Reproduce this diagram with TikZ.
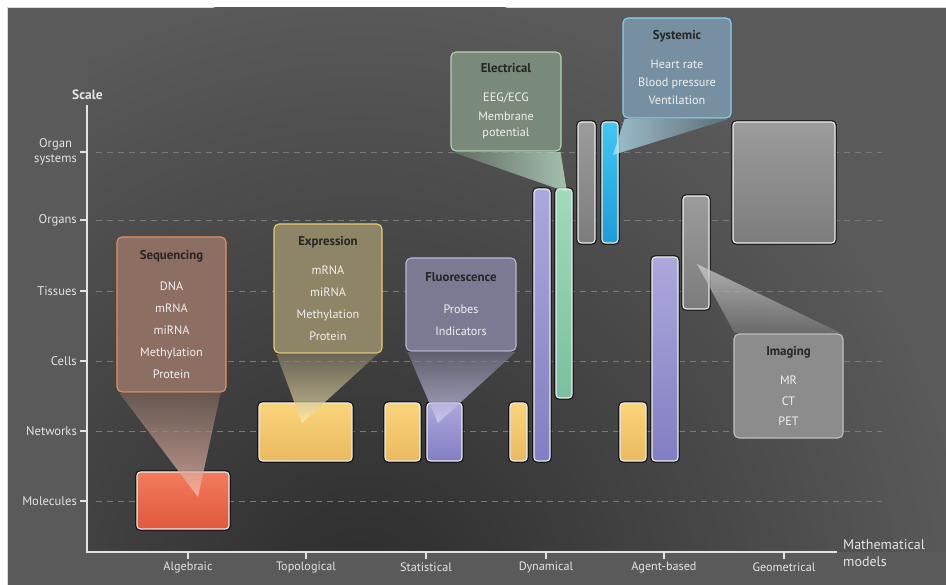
\documentclass[tikz,border=0pt]{standalone}
\usepackage{fontspec}
\setmainfont{PT Sans}
\usetikzlibrary{positioning}
\definecolor{panel}{HTML}{5A5A5A}
\definecolor{paneldark}{HTML}{2C2C2C}
\definecolor{axistext}{HTML}{E4E4E4}
\definecolor{axisline}{HTML}{E2E2E2}
\definecolor{axisgrid}{HTML}{7A7A7A}
\definecolor{calltext}{HTML}{F0F0F0}
\definecolor{titletext}{HTML}{262626}
\newcommand\calltitle[1]{{\fontsize{12.8}{22}\selectfont\bfseries\color{titletext}#1}}
\begin{document}
\begin{tikzpicture}[x=1pt,y=-1pt]
	\tikzstyle{bar}=[rounded corners=3.5pt, inner sep=0pt, draw=white!85!gray, line width=1.1pt, preaction={draw=black, line width=3.8pt, opacity=.6}]
	\tikzstyle{redbar}=[top color={rgb,255:red,242;green,124;blue,92}, bottom color={rgb,255:red,224;green,88;blue,62}]
	\tikzstyle{yellowbar}=[top color={rgb,255:red,250;green,212;blue,124}, bottom color={rgb,255:red,234;green,186;blue,96}]
	\tikzstyle{purplebar}=[top color={rgb,255:red,172;green,168;blue,220}, bottom color={rgb,255:red,130;green,126;blue,194}]
	\tikzstyle{greenbar}=[top color={rgb,255:red,160;green,218;blue,186}, bottom color={rgb,255:red,122;green,192;blue,160}]
	\tikzstyle{graybar}=[top color={rgb,255:red,156;green,156;blue,156}, bottom color={rgb,255:red,124;green,124;blue,124}]
	\tikzstyle{bluebar}=[top color={rgb,255:red,66;green,198;blue,242}, bottom color={rgb,255:red,30;green,156;blue,214}]
	\tikzstyle{callout}=[rounded corners=5pt, inner sep=0pt, line width=1.1pt, align=center, text=calltext, font=\fontsize{12.2}{22}\selectfont]
	\tikzstyle{wedge}=[opacity=.7]
	\tikzstyle{axis}=[draw=axisline, line width=1.5pt]
	\tikzstyle{grid}=[draw=axisgrid, dash pattern=on 6pt off 5pt, line width=.8pt]
	\tikzstyle{scalelabel}=[anchor=east, inner sep=0pt, text=axistext, align=center, font=\fontsize{12.6}{15}\selectfont]
	\tikzstyle{modellabel}=[inner sep=0pt, text=axistext, font=\fontsize{12.2}{14}\selectfont]
	% Background
	\useasboundingbox (0,0) rectangle (946,585);
	\fill[white] (0,0) rectangle (946,585);
	\fill[panel] (7,7) rectangle (946,585);
	\draw[white!70!gray, line width=.8pt] (7.4,585) -- (7.4,7.4) -- (946,7.4);
	\begin{scope}
		\clip (88,8) rectangle (946,551);
		\shade[inner color=paneldark, outer color=panel] (360,600) circle (610);
	\end{scope}
	% Scale levels
	\foreach \y/\name/\lab in {152/orgsys/{Organ\\systems}, 220/organs/Organs, 291/tissues/Tissues, 361/cells/Cells, 431/networks/Networks, 501/molecules/Molecules}{
		\draw[grid] (96,\y) -- (882,\y);
		\coordinate (yt_\name) at (87,\y);
		\draw[axis, line width=1.2pt] (yt_\name) -- ++(-7,0);
		\node[scalelabel] (lab_\name) at (77,\y) {\lab};
	}
	% Axes
	\coordinate (origin) at (87,552);
	\coordinate (ytop) at (87,105);
	\coordinate (xend) at (837,552);
	\draw[axis] (ytop) -- (origin) -- (xend);
	\node[text=axistext, font=\fontsize{13.5}{14}\selectfont\bfseries] (scale) at (87.5,95) {Scale};
	\node[anchor=west, align=left, inner sep=0pt, text=axistext, font=\fontsize{14}{17}\selectfont] (models) at (843,553) {Mathematical\\models};
	\foreach \x/\name/\lab in {188/alg/Algebraic, 306/topo/Topological, 426/stat/Statistical, 546/dyn/Dynamical, 664/agent/Agent-based, 784/geo/Geometrical}{
		\coordinate (xt_\name) at (\x,552);
		\draw[axis, line width=1.2pt] (xt_\name) -- ++(0,7);
		\node[modellabel] (lab_\name) at (\x,567) {\lab};
	}
	%---------------------%
	% Bars
	\node[bar, redbar, minimum width=92, minimum height=57] (alg_red) at (183,500.5) {};
	\node[bar, yellowbar, minimum width=93, minimum height=58] (topo_yellow) at (305.5,432) {};
	\node[bar, yellowbar, minimum width=35, minimum height=58] (stat_yellow) at (402.5,432) {};
	\node[bar, purplebar, minimum width=35, minimum height=58] (stat_purple) at (444.5,432) {};
	\node[bar, yellowbar, minimum width=17, minimum height=58] (dyn_yellow) at (518.5,432) {};
	\node[bar, purplebar, minimum width=16, minimum height=272] (dyn_purple) at (542,325) {};
	\node[bar, greenbar, minimum width=16, minimum height=209] (dyn_green) at (564,293.5) {};
	\node[bar, graybar, minimum width=17, minimum height=121] (dyn_gray) at (586.5,182.5) {};
	\node[bar, bluebar, minimum width=16, minimum height=121] (dyn_blue) at (610,182.5) {};
	\node[bar, yellowbar, minimum width=26, minimum height=58] (agent_yellow) at (633,432) {};
	\node[bar, purplebar, minimum width=26, minimum height=204] (agent_purple) at (665,359) {};
	\node[bar, graybar, minimum width=26, minimum height=113] (agent_gray) at (696,252.5) {};
	\node[bar, graybar, minimum width=102, minimum height=121] (geo_gray) at (784,182.5) {};
	%---------------------%
	% Callouts
	\node[callout, fill={rgb,255:red,140;green,110;blue,98}, draw={rgb,255:red,226;green,144;blue,96}, minimum width=109, minimum height=155] (sequencing) at (171.5,314.5)
		{\calltitle{Sequencing}\\[9pt] DNA\\ mRNA\\ miRNA\\ Methylation\\ Protein};
	\node[callout, fill={rgb,255:red,142;green,132;blue,102}, draw={rgb,255:red,230;green,204;blue,122}, minimum width=108, minimum height=129] (expression) at (328,288.5)
		{\calltitle{Expression}\\[7pt] mRNA\\ miRNA\\ Methylation\\ Protein};
	\node[callout, fill={rgb,255:red,124;green,122;blue,146}, draw={rgb,255:red,184;green,182;blue,216}, minimum width=110, minimum height=93] (fluorescence) at (461,304.5)
		{\calltitle{Fluorescence}\\[10pt] Probes\\ Indicators};
	\node[callout, fill={rgb,255:red,122;green,138;blue,122}, draw={rgb,255:red,180;green,212;blue,180}, minimum width=110, minimum height=99] (electrical) at (506,101.5)
		{\calltitle{Electrical}\\[7pt] EEG/ECG\\[-3pt] Membrane\\[-6pt] potential};
	\node[callout, fill={rgb,255:red,118;green,144;blue,162}, draw={rgb,255:red,142;green,208;blue,238}, minimum width=108, minimum height=100] (systemic) at (677,68)
		{\calltitle{Systemic}\\[7pt] Heart rate\\[-4pt] Blood pressure\\[-4pt] Ventilation};
	\node[callout, fill={rgb,255:red,140;green,140;blue,140}, draw={rgb,255:red,192;green,192;blue,192}, minimum width=109, minimum height=104] (imaging) at (788.5,386)
		{\calltitle{Imaging}\\[7pt] MR\\[-1.5pt] CT\\[-1.5pt] PET};
	%---------------------%
	% Callout wedges
	\coordinate (seq_tip) at (198,497);
	\coordinate (expr_tip) at (302,423);
	\coordinate (fluo_tip) at (438,423);
	\coordinate (elec_tip) at (567,192);
	\coordinate (syst_tip) at (613,155);
	\coordinate (imag_tip) at (697,264);
	\shade[wedge, top color={rgb,255:red,120;green,98;blue,90}, bottom color={rgb,255:red,250;green,196;blue,180}]
		([xshift=3pt,yshift=-.6pt]sequencing.south west) -- (seq_tip) -- ([xshift=-6pt,yshift=-.6pt]sequencing.south east) -- cycle;
	\shade[wedge, top color={rgb,255:red,124;green,118;blue,96}, bottom color={rgb,255:red,255;green,240;blue,180}]
		([xshift=3pt,yshift=-.6pt]expression.south west) -- (expr_tip) -- ([xshift=-5pt,yshift=-.6pt]expression.south east) -- cycle;
	\shade[wedge, top color={rgb,255:red,110;green,110;blue,130}, bottom color={rgb,255:red,216;green,214;blue,255}]
		([xshift=2pt,yshift=-.6pt]fluorescence.south west) -- (fluo_tip) -- ([xshift=-1pt,yshift=-.6pt]fluorescence.south east) -- cycle;
	\shade[wedge, left color={rgb,255:red,104;green,118;blue,106}, right color={rgb,255:red,200;green,240;blue,216}]
		([xshift=2pt,yshift=-.6pt]electrical.south west) -- (elec_tip) -- ([xshift=-1pt,yshift=-.6pt]electrical.south east) -- cycle;
	\shade[wedge, right color={rgb,255:red,100;green,116;blue,128}, left color={rgb,255:red,184;green,236;blue,255}]
		([xshift=2pt,yshift=-.6pt]systemic.south west) -- (syst_tip) -- ([xshift=-3pt,yshift=-.6pt]systemic.south east) -- cycle;
	\shade[wedge, top color={rgb,255:red,214;green,214;blue,214}, bottom color={rgb,255:red,118;green,118;blue,118}]
		([xshift=1pt,yshift=.6pt]imaging.north west) -- (imag_tip) -- ([xshift=-3pt,yshift=.6pt]imaging.north east) -- cycle;
	%---------------------%
\end{tikzpicture}
\end{document}
